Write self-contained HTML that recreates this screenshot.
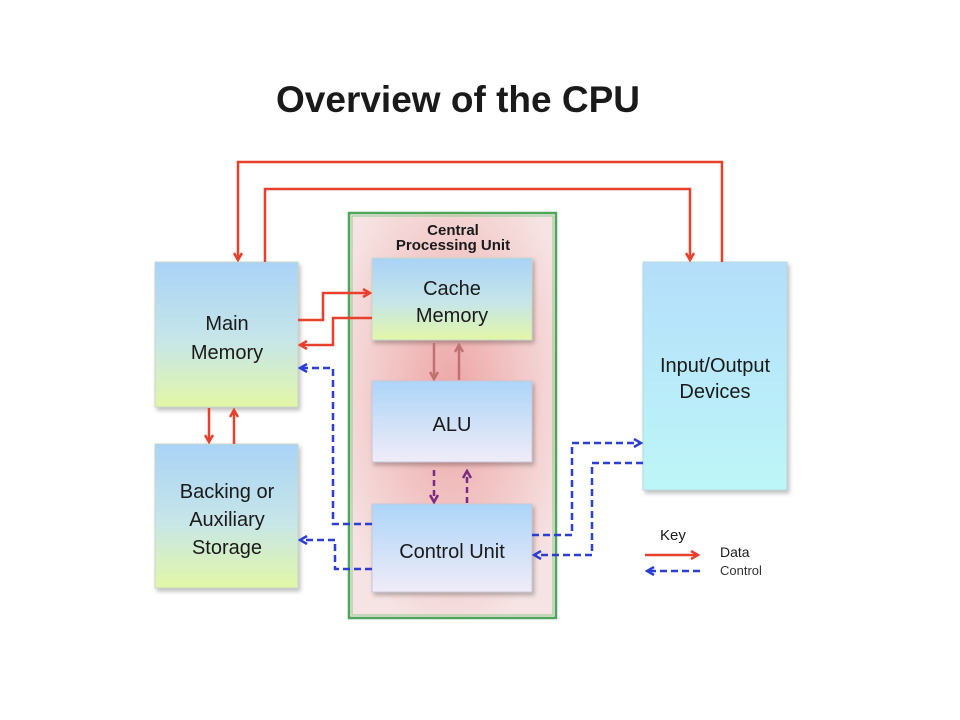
<!DOCTYPE html>
<html><head><style>body{margin:0;background:#fff}svg{display:block}</style></head><body>
<svg width="960" height="720" viewBox="0 0 960 720" xmlns="http://www.w3.org/2000/svg" font-family="Liberation Sans, sans-serif">
<defs>
<linearGradient id="bg1" x1="0" y1="0" x2="0" y2="1"><stop offset="0" stop-color="#a9d3f7"/><stop offset="0.55" stop-color="#c7e6e8"/><stop offset="1" stop-color="#e2f7a6"/></linearGradient>
<linearGradient id="bg2" x1="0" y1="0" x2="0" y2="1"><stop offset="0" stop-color="#acd5f8"/><stop offset="1" stop-color="#f0ecf8"/></linearGradient>
<linearGradient id="io" x1="0" y1="0" x2="0" y2="1"><stop offset="0" stop-color="#b4defa"/><stop offset="1" stop-color="#bdf6f8"/></linearGradient>
<radialGradient id="cpu" cx="0.5" cy="0.45" r="0.6"><stop offset="0" stop-color="#eda6a6"/><stop offset="1" stop-color="#f6e3e3"/></radialGradient>
<filter id="sh" x="-10%" y="-10%" width="125%" height="125%"><feDropShadow dx="2" dy="3" stdDeviation="2" flood-color="#000" flood-opacity="0.25"/></filter>
<marker id="ar" markerWidth="10" markerHeight="10" refX="8" refY="5" orient="auto" markerUnits="userSpaceOnUse"><path d="M1,1 L8,5 L1,9" fill="none" stroke="#e8402c" stroke-width="2.5"/></marker>
<marker id="am" markerWidth="10" markerHeight="10" refX="8" refY="5" orient="auto" markerUnits="userSpaceOnUse"><path d="M1,1 L8,5 L1,9" fill="none" stroke="#c07070" stroke-width="2.5"/></marker>
<marker id="ab" markerWidth="10" markerHeight="10" refX="8" refY="5" orient="auto" markerUnits="userSpaceOnUse"><path d="M1,1 L8,5 L1,9" fill="none" stroke="#2b3ed6" stroke-width="2.5"/></marker>
<marker id="ap" markerWidth="10" markerHeight="10" refX="8" refY="5" orient="auto" markerUnits="userSpaceOnUse"><path d="M1,1 L8,5 L1,9" fill="none" stroke="#7a2a80" stroke-width="2.5"/></marker>
</defs>
<text x="458" y="112" text-anchor="middle" font-size="37" font-weight="bold" fill="#1a1a1a" textLength="364" lengthAdjust="spacingAndGlyphs">Overview of the CPU</text>

<rect x="349" y="213" width="207" height="405" fill="url(#cpu)" stroke="#4da65a" stroke-width="2.5"/>
<rect x="352" y="216" width="201" height="399" fill="none" stroke="#8ccf90" stroke-width="1"/>
<text x="453" y="235" text-anchor="middle" font-size="15" font-weight="bold" fill="#1a1a1a">Central</text>
<text x="453" y="250" text-anchor="middle" font-size="15" font-weight="bold" fill="#1a1a1a">Processing Unit</text>

<g filter="url(#sh)">
<rect x="155" y="262" width="143" height="145" fill="url(#bg1)" stroke="#c8d8c8"/>
<rect x="155" y="444" width="143" height="144" fill="url(#bg1)" stroke="#c8d8c8"/>
<rect x="372" y="258" width="160" height="82" fill="url(#bg1)" stroke="#c8d8c8"/>
<rect x="372" y="381" width="160" height="81" fill="url(#bg2)" stroke="#c8c8d8"/>
<rect x="372" y="504" width="160" height="88" fill="url(#bg2)" stroke="#c8c8d8"/>
<rect x="643" y="262" width="144" height="228" fill="url(#io)" stroke="#b8d8d8"/>
</g>
<text x="227" y="330" text-anchor="middle" font-size="20" fill="#1a1a1a">Main</text>
<text x="227" y="359" text-anchor="middle" font-size="20" fill="#1a1a1a">Memory</text>
<text x="227" y="498" text-anchor="middle" font-size="20" fill="#1a1a1a">Backing or</text>
<text x="227" y="526" text-anchor="middle" font-size="20" fill="#1a1a1a">Auxiliary</text>
<text x="227" y="554" text-anchor="middle" font-size="20" fill="#1a1a1a">Storage</text>
<text x="452" y="295" text-anchor="middle" font-size="20" fill="#1a1a1a">Cache</text>
<text x="452" y="322" text-anchor="middle" font-size="20" fill="#1a1a1a">Memory</text>
<text x="452" y="431" text-anchor="middle" font-size="20" fill="#1a1a1a">ALU</text>
<text x="452" y="558" text-anchor="middle" font-size="20" fill="#1a1a1a">Control Unit</text>
<text x="715" y="372" text-anchor="middle" font-size="20" fill="#1a1a1a">Input/Output</text>
<text x="715" y="398" text-anchor="middle" font-size="20" fill="#1a1a1a">Devices</text>

<g fill="none" stroke="#e8402c" stroke-width="2.5">
<path d="M722,262 V162 H238 V260" marker-end="url(#ar)"/>
<path d="M265,262 V189 H690 V260" marker-end="url(#ar)"/>
<path d="M298,320 H323 V293 H370" marker-end="url(#ar)"/>
<path d="M372,318 H333 V345 H300" marker-end="url(#ar)"/>
<path d="M209,408 V442" marker-end="url(#ar)"/>
<path d="M234,444 V410" marker-end="url(#ar)"/>
<path d="M645,555 H698" marker-end="url(#ar)"/>
</g>
<g fill="none" stroke="#c07070" stroke-width="2.5">
<path d="M434,343 V379" marker-end="url(#am)"/>
<path d="M459,380 V345" marker-end="url(#am)"/>
</g>
<g fill="none" stroke="#2b3ed6" stroke-width="2.5" stroke-dasharray="7,4">
<path d="M372,524 H333 V368 H300" marker-end="url(#ab)"/>
<path d="M372,569 H335 V540 H300" marker-end="url(#ab)"/>
<path d="M532,535 H572 V443 H641" marker-end="url(#ab)"/>
<path d="M643,463 H592 V555 H534" marker-end="url(#ab)"/>
<path d="M700,571 H647" marker-end="url(#ab)"/>
</g>
<g fill="none" stroke="#7a2a80" stroke-width="2.5" stroke-dasharray="6,4">
<path d="M434,470 V502" marker-end="url(#ap)"/>
<path d="M467,503 V471" marker-end="url(#ap)"/>
</g>
<text x="660" y="540" font-size="15" fill="#1a1a1a">Key</text>
<text x="720" y="557" font-size="14" fill="#1a1a1a">Data</text>
<text x="720" y="575" font-size="13" fill="#333">Control</text>
</svg>
</body></html>
